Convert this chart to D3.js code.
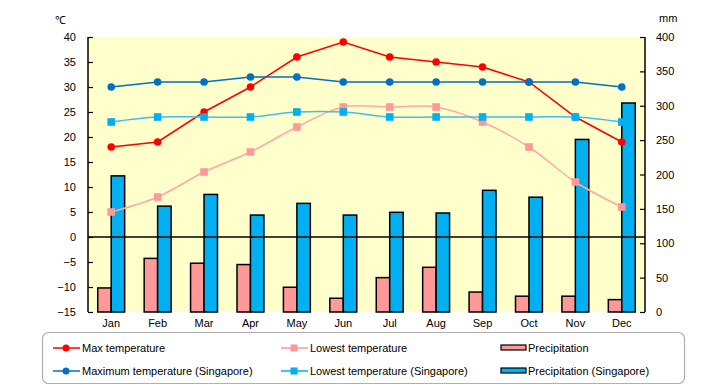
<!DOCTYPE html>
<html>
<head>
<meta charset="utf-8">
<script src="https://cdn.jsdelivr.net/npm/d3@7"></script>
<style>
  body { margin: 0; background: #fff; }
  text { font-family: "Liberation Sans", Arial, sans-serif; }
</style>
</head>
<body>
<div id="chart"></div>
<script>
const months = ["Jan", "Feb", "Mar", "Apr", "May", "Jun", "Jul", "Aug", "Sep", "Oct", "Nov", "Dec"];
const maxTemp = [18, 19, 25, 30, 36, 39, 36, 35, 34, 31, 24, 19];
const lowTemp = [5, 8, 13, 17, 22, 26, 26, 26, 23, 18, 11, 6];
const precip = [35, 78, 71, 69, 36, 20, 50, 65, 29, 23, 23, 18];
const maxTempSg = [30, 31, 31, 32, 32, 31, 31, 31, 31, 31, 31, 30];
const lowTempSg = [23, 24, 24, 24, 25, 25, 24, 24, 24, 24, 24, 23];
const precipSg = [198, 154, 171, 141, 158, 141, 145, 144, 177, 167, 251, 304];
const tempTicks = [40, 35, 30, 25, 20, 15, 10, 5, 0, -5, -10, -15];
const mmTicks = [400, 350, 300, 250, 200, 150, 100, 50, 0];

const margin = { top: 37, right: 75, bottom: 73, left: 88 },
    width = 720 - margin.left - margin.right,
    height = 385 - margin.top - margin.bottom;

const root = d3.select("#chart")
    .append("svg")
        .attr("width", 720)
        .attr("height", 385);

const svg = root.append("g")
    .attr("transform", `translate(${margin.left},${margin.top})`);

svg.append("rect")
    .attr("width", width)
    .attr("height", height)
    .attr("fill", "#ffffcc");

const x = d3.scaleBand()
    .domain(months)
    .range([0, width]);

const x1 = d3.scaleBand()
    .domain(["local", "sg"])
    .range([x.bandwidth() * 0.21, x.bandwidth() * 0.79]);

const y = d3.scaleLinear()
    .domain([-15, 40])
    .range([height, 0]);

const yMm = d3.scaleLinear()
    .domain([0, 400])
    .range([height, 0]);

// precipitation bars
const barSeries = [
    { key: "local", values: precip, fill: "#ff9999" },
    { key: "sg", values: precipSg, fill: "#00b0f0" }
];

barSeries.forEach(s => {
    svg.append("g")
        .selectAll("rect")
        .data(s.values)
        .join("rect")
            .attr("x", (d, i) => x(months[i]) + x1(s.key))
            .attr("y", d => yMm(d))
            .attr("width", x1.bandwidth())
            .attr("height", d => height - yMm(d))
            .attr("fill", s.fill)
            .attr("stroke", "#000")
            .attr("stroke-width", 1.5);
});

// zero line
svg.append("line")
    .attr("x1", 0)
    .attr("x2", width)
    .attr("y1", y(0))
    .attr("y2", y(0))
    .attr("stroke", "#000")
    .attr("stroke-width", 1.5);

const cx = i => x(months[i]) + x.bandwidth() / 2;

const lineSeries = [
    { values: maxTemp, line: "#ff0000", marker: "#ff0000", shape: "circle", curve: d3.curveLinear },
    { values: lowTemp, line: "#ffa8a8", marker: "#ff9999", shape: "square", curve: d3.curveCatmullRom },
    { values: maxTempSg, line: "#0070c0", marker: "#0070c0", shape: "circle", curve: d3.curveLinear },
    { values: lowTempSg, line: "#3fbfe8", marker: "#00b0f0", shape: "square", curve: d3.curveCatmullRom }
];

lineSeries.forEach(s => {
    const line = d3.line()
        .x((d, i) => cx(i))
        .y(d => y(d))
        .curve(s.curve);

    svg.append("path")
        .datum(s.values)
        .attr("fill", "none")
        .attr("stroke", s.line)
        .attr("stroke-width", 1.5)
        .attr("d", line);

    const g = svg.append("g");
    if (s.shape === "circle") {
        g.selectAll("circle")
            .data(s.values)
            .join("circle")
                .attr("cx", (d, i) => cx(i))
                .attr("cy", d => y(d))
                .attr("r", 3.8)
                .attr("fill", s.marker);
    } else {
        g.selectAll("rect")
            .data(s.values)
            .join("rect")
                .attr("x", (d, i) => cx(i) - 3.8)
                .attr("y", d => y(d) - 3.8)
                .attr("width", 7.6)
                .attr("height", 7.6)
                .attr("fill", s.marker);
    }
});

// axes
const yAxisGroup = svg.append("g")
    .call(d3.axisLeft(y).tickValues(tempTicks).tickSize(-5).tickPadding(12));

const yAxisRight = svg.append("g")
    .attr("transform", `translate(${width},0)`)
    .call(d3.axisRight(yMm).tickValues(mmTicks).tickSize(-5).tickPadding(11));

const xAxisGroup = svg.append("g")
    .attr("transform", `translate(0,${height})`)
    .call(d3.axisBottom(x).tickSize(0).tickPadding(7));

xAxisGroup.select(".domain").remove();

[yAxisGroup, yAxisRight].forEach(g => {
    g.select(".domain")
        .attr("d", `M0,0V${height}`)
        .style("stroke", "#000")
        .style("stroke-width", 1.5);
    g.selectAll("line").style("stroke", "#000").style("stroke-width", 1.2);
});

[yAxisGroup, yAxisRight, xAxisGroup].forEach(g => {
    g.selectAll("text")
        .style("fill", "#000")
        .style("font-size", "11px")
        .style("font-family", "'Liberation Sans', Arial, sans-serif");
});

root.append("text")
    .attr("x", 55)
    .attr("y", 24)
    .style("font-size", "11px")
    .text("℃");

root.append("text")
    .attr("x", 659)
    .attr("y", 22)
    .style("font-size", "11px")
    .text("mm");

// legend
const legend = root.append("g");

legend.append("rect")
    .attr("x", 42.5)
    .attr("y", 332.5)
    .attr("width", 642)
    .attr("height", 51)
    .attr("rx", 6)
    .attr("fill", "#fff")
    .attr("stroke", "#b0b0b0")
    .attr("stroke-width", 1.2);

const legendItems = [
    { label: "Max temperature", type: "line", color: "#ff0000", shape: "circle", x: 53, y: 348 },
    { label: "Lowest temperature", type: "line", color: "#ff9999", shape: "square", x: 281, y: 348 },
    { label: "Precipitation", type: "bar", color: "#ff9999", x: 501, y: 348 },
    { label: "Maximum temperature (Singapore)", type: "line", color: "#0070c0", shape: "circle", x: 53, y: 371 },
    { label: "Lowest temperature (Singapore)", type: "line", color: "#00b0f0", shape: "square", x: 281, y: 371 },
    { label: "Precipitation (Singapore)", type: "bar", color: "#00b0f0", x: 501, y: 371 }
];

legendItems.forEach(d => {
    const g = legend.append("g");
    if (d.type === "line") {
        g.append("line")
            .attr("x1", d.x)
            .attr("x2", d.x + 27)
            .attr("y1", d.y)
            .attr("y2", d.y)
            .attr("stroke", d.color)
            .attr("stroke-width", 1.5);
        if (d.shape === "circle") {
            g.append("circle")
                .attr("cx", d.x + 13)
                .attr("cy", d.y)
                .attr("r", 3.5)
                .attr("fill", d.color);
        } else {
            g.append("rect")
                .attr("x", d.x + 9.5)
                .attr("y", d.y - 3.5)
                .attr("width", 7)
                .attr("height", 7)
                .attr("fill", d.color);
        }
        g.append("text")
            .attr("x", d.x + 29)
            .attr("y", d.y + 4)
            .style("font-size", "11px")
            .text(d.label);
    } else {
        g.append("rect")
            .attr("x", d.x)
            .attr("y", d.y - 3)
            .attr("width", 25)
            .attr("height", 5)
            .attr("fill", d.color)
            .attr("stroke", "#000")
            .attr("stroke-width", 1.2);
        g.append("text")
            .attr("x", d.x + 27)
            .attr("y", d.y + 4)
            .style("font-size", "11px")
            .text(d.label);
    }
});
</script>
</body>
</html>
